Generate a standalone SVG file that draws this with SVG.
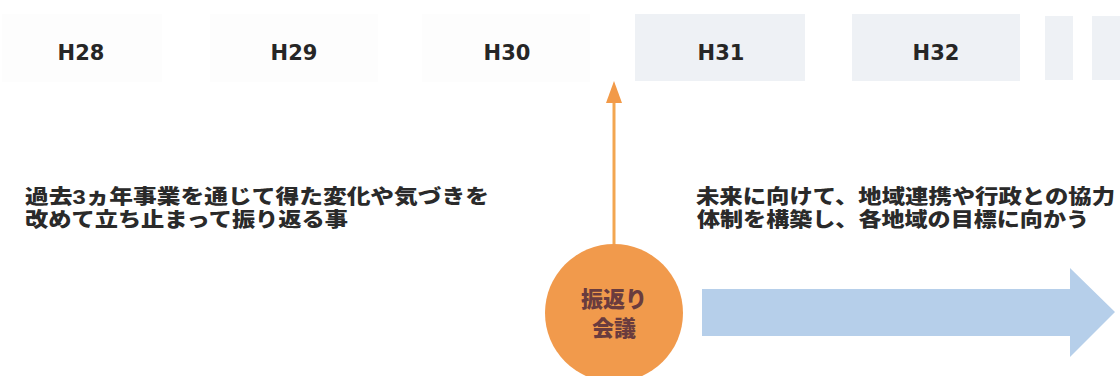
<svg xmlns="http://www.w3.org/2000/svg" width="1120" height="376" viewBox="0 0 1120 376">
<style>
.yr{font-family:"DejaVu Sans",Verdana,sans-serif;font-weight:bold;font-size:21px;fill:#262626;text-anchor:middle}
.jp{font-family:"Liberation Sans","Noto Sans CJK JP","Noto Sans CJK SC",sans-serif;font-weight:900;font-size:20px;fill:#2a2a2a}
.cj{font-family:"Liberation Sans","Noto Sans CJK JP","Noto Sans CJK SC",sans-serif;font-weight:900;font-size:22px;fill:#6a3c3e;text-anchor:middle}
.fbox{fill:#fdfdfd}
.box{fill:#eef1f5}
</style>
<rect width="1120" height="376" fill="#ffffff"/>
<g id="year-H28"><rect class="fbox" x="2" y="14" width="160" height="68"/><text class="yr" x="81" y="60">H28</text></g>
<g id="year-H29"><rect class="fbox" x="210" y="14" width="168" height="68"/><text class="yr" x="294" y="60">H29</text></g>
<g id="year-H30"><rect class="fbox" x="422" y="14" width="168" height="68"/><text class="yr" x="507" y="60">H30</text></g>
<g id="year-H31"><rect class="box" x="635" y="14" width="170" height="67"/><text class="yr" x="721" y="60">H31</text></g>
<g id="year-H32"><rect class="box" x="852" y="14" width="168" height="67"/><text class="yr" x="936" y="60">H32</text></g>
<g id="year-more"><rect class="box" x="1045" y="16" width="28" height="64"/><rect class="box" x="1092" y="16" width="28" height="64"/></g>
<g id="text-left">
<text class="jp" x="25" y="204" textLength="464" lengthAdjust="spacingAndGlyphs">過去3ヵ年事業を通じて得た変化や気づきを</text>
<text class="jp" x="25" y="227" textLength="323" lengthAdjust="spacingAndGlyphs">改めて立ち止まって振り返る事</text>
</g>
<g id="text-right">
<text class="jp" x="696" y="204" textLength="419" lengthAdjust="spacingAndGlyphs">未来に向けて、地域連携や行政との協力</text>
<text class="jp" x="697" y="227" textLength="392" lengthAdjust="spacingAndGlyphs">体制を構築し、各地域の目標に向かう</text>
</g>
<g id="connectors">
<line x1="614" y1="246" x2="614" y2="100" stroke="#f3a650" stroke-width="3"/>
<polygon points="614,81 606,103 622,103" fill="#f29a48"/>
<polygon points="702,289 1070,289 1070,268 1115,312 1070,357 1070,336 702,336" fill="#b6cfea"/>
</g>
<g id="node-meeting">
<circle cx="614" cy="313" r="69" fill="#f19a4c"/>
<text class="cj" x="614" y="307">振返り</text>
<text class="cj" x="614" y="336">会議</text>
</g>
</svg>
